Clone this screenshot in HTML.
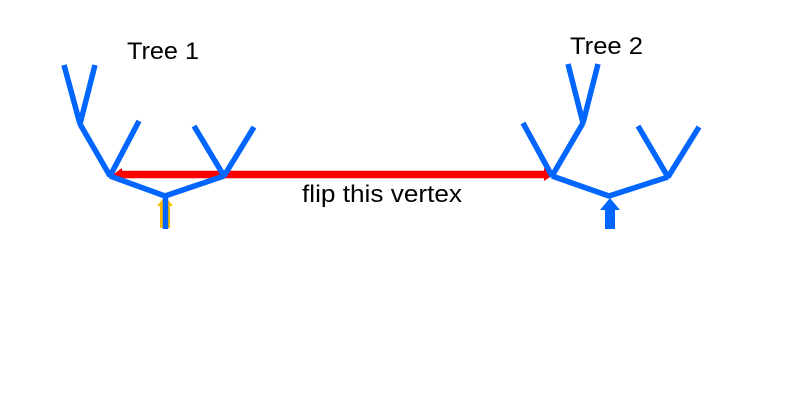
<!DOCTYPE html>
<html><head><style>html,body{margin:0;padding:0;background:#fff;width:802px;height:413px;overflow:hidden}</style></head>
<body>
<svg width="802" height="413" viewBox="0 0 802 413" xmlns="http://www.w3.org/2000/svg">
<rect width="802" height="413" fill="#fff"/>
<polygon points="160,228 160,206 157,206 165,196 173,206 170,206 170,228" fill="#FFB800"/>
<line x1="120" y1="174.5" x2="544" y2="174.5" stroke="#FF0000" stroke-width="7.5"/>
<polygon points="113,174.5 122,168 122,181" fill="#FF0000"/>
<polygon points="554,174.5 544,168 544,181" fill="#FF0000"/>
<g stroke="#0066FF" stroke-width="5.5" fill="none" stroke-linejoin="bevel">
<polyline points="64,65 80,124 95,65"/>
<polyline points="80,124 110,176 139,121"/>
<polyline points="194,126 224,176 254,127"/>
<polyline points="110,176 165,196 224,176"/>
<line x1="165.5" y1="196" x2="165.5" y2="229"/>
<polyline points="568,64 583,123 598,64"/>
<polyline points="583,123 552,176 523,123"/>
<polyline points="638,126 668,177 699,127"/>
<polyline points="552,176 609,196 668,177"/>
</g>
<polygon points="605,229 605,210 600,210 610,198 620,210 615,210 615,229" fill="#0066FF"/>
<g font-family="'Liberation Sans',sans-serif" font-size="24" fill="#000">
<text x="127" y="59" textLength="72" lengthAdjust="spacingAndGlyphs">Tree 1</text>
<text x="570" y="54" textLength="73" lengthAdjust="spacingAndGlyphs">Tree 2</text>
<text x="302" y="202" textLength="160" lengthAdjust="spacingAndGlyphs">flip this vertex</text>
</g>
</svg>
</body></html>
